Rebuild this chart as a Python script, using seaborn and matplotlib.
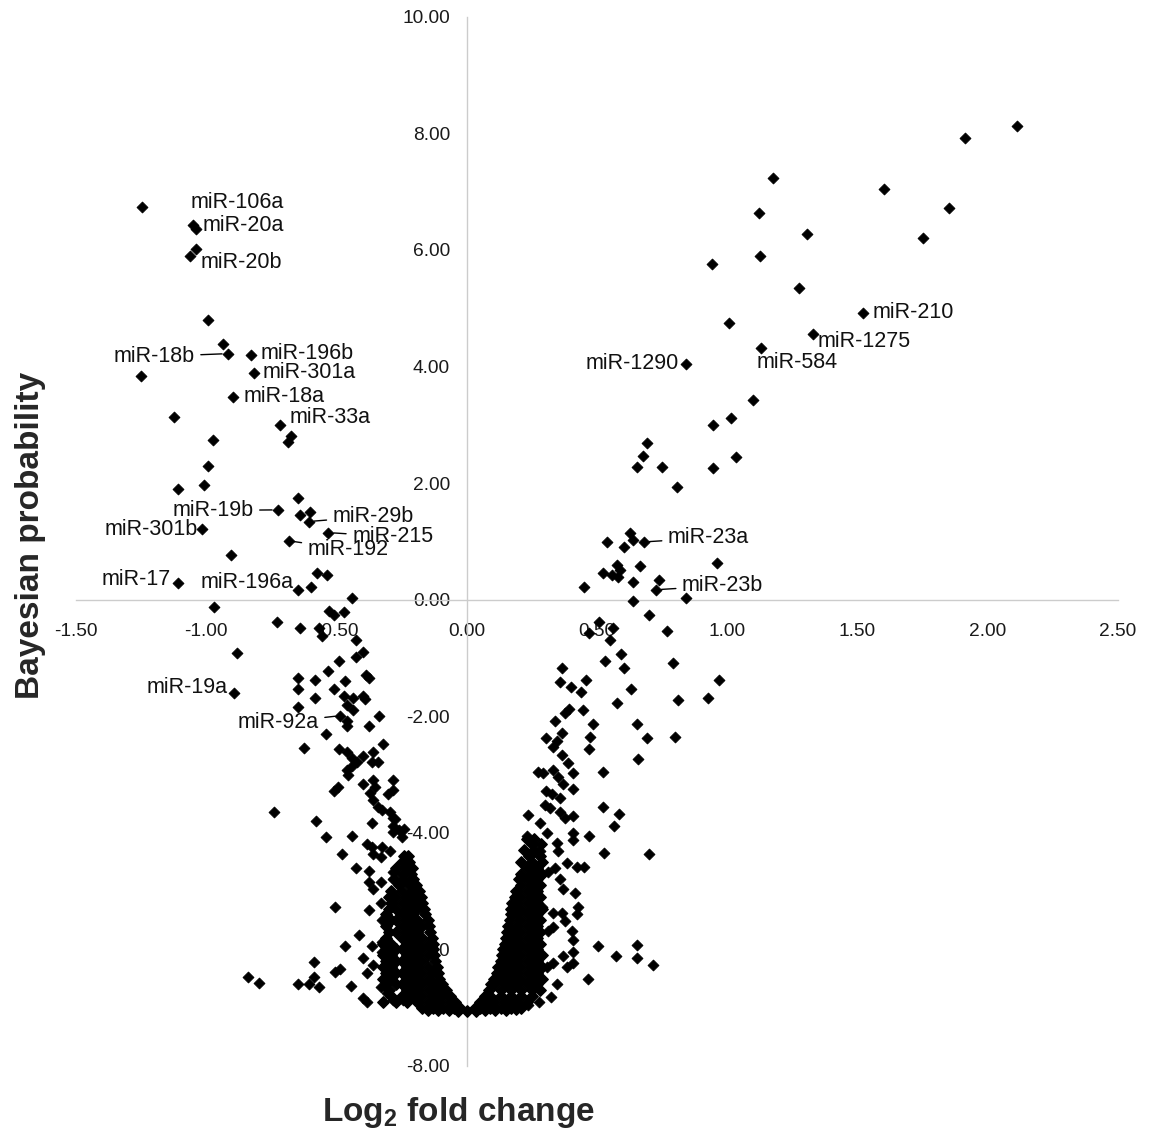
import numpy as np
import pandas as pd
import matplotlib
matplotlib.use("Agg")
import matplotlib.pyplot as plt
import seaborn as sns

# ---------------- data (log2 fold change, Bayesian probability) ----------------
label_names = ["miR-106a", "miR-20a", "miR-20b", "miR-18b", "miR-196b", "miR-301a",
               "miR-18a", "miR-33a", "miR-19b", "miR-29b", "miR-215", "miR-192",
               "miR-301b", "miR-17", "miR-196a", "miR-19a", "miR-92a",
               "miR-210", "miR-1275", "miR-584", "miR-1290", "miR-23a", "miR-23b"]
label_fc = [-1.052, -1.040, -1.063, -0.918, -0.830, -0.818, -0.898, -0.715, -0.726,
            -0.607, -0.531, -0.684, -1.017, -1.109, -0.649, -0.894, -0.485,
            1.523, 1.328, 1.130, 0.841, 0.680, 0.726]
label_p = [6.42, 6.35, 5.90, 4.22, 4.19, 3.89, 3.48, 3.00, 1.54, 1.34, 1.15, 1.01,
           1.22, 0.29, 0.17, -1.60, -1.99, 4.91, 4.56, 4.32, 4.05, 0.99, 0.17]

left_fc = [-1.247, -1.040, -0.994, -0.937, -1.251, -1.125, -0.676, -0.688, -0.975, -0.994,
           -1.109, -1.010, -0.649, -0.642, -0.600, -0.906, -0.573, -0.538, -0.596, -0.442,
           -0.971, -0.527, -0.511, -0.473, -0.730, -0.642, -0.569, -0.554, -0.427, -0.883,
           -0.397, -0.427, -0.492, -0.531, -0.385, -0.377, -0.649, -0.584, -0.466, -0.649,
           -0.511, -0.473, -0.435, -0.397, -0.389, -0.584, -0.458, -0.435, -0.649, -0.335,
           -0.458, -0.542, -0.458, -0.377, -0.626, -0.492, -0.458, -0.439, -0.420, -0.397,
           -0.358, -0.362, -0.339, -0.320, -0.458, -0.439, -0.454, -0.397, -0.358, -0.351,
           -0.370, -0.282, -0.285, -0.301, -0.511, -0.496, -0.358, -0.339, -0.324, -0.293,
           -0.285, -0.741, -0.580, -0.362, -0.285, -0.282, -0.259, -0.239, -0.247, -0.542,
           -0.439, -0.381, -0.362, -0.324, -0.358, -0.331, -0.293, -0.477, -0.427, -0.374,
           -0.377, -0.331, -0.358, -0.285, -0.282, -0.504, -0.377, -0.331, -0.305, -0.324,
           -0.412, -0.362, -0.324, -0.305, -0.469, -0.588, -0.504, -0.485, -0.397, -0.358,
           -0.381, -0.324, -0.305, -0.841, -0.799, -0.646, -0.607, -0.588, -0.569, -0.446,
           -0.400, -0.381, -0.331, -0.305, -0.282, -0.243, -0.274]
left_p = [6.74, 6.02, 4.80, 4.39, 3.83, 3.14, 2.80, 2.71, 2.74, 2.30,
          1.89, 1.96, 1.75, 1.46, 1.51, 0.77, 0.46, 0.43, 0.22, 0.03,
          -0.12, -0.19, -0.26, -0.22, -0.38, -0.48, -0.48, -0.63, -0.70, -0.91,
          -0.89, -0.98, -1.06, -1.23, -1.29, -1.34, -1.34, -1.37, -1.39, -1.54,
          -1.54, -1.65, -1.68, -1.66, -1.70, -1.68, -1.80, -1.89, -1.85, -1.99,
          -2.09, -2.30, -2.16, -2.16, -2.54, -2.56, -2.61, -2.71, -2.78, -2.69,
          -2.61, -2.78, -2.78, -2.47, -2.92, -2.86, -3.00, -3.17, -3.09, -3.21,
          -3.31, -3.09, -3.26, -3.34, -3.29, -3.21, -3.43, -3.55, -3.60, -3.65,
          -3.74, -3.65, -3.79, -3.83, -3.88, -3.98, -3.96, -3.93, -4.07, -4.07,
          -4.05, -4.19, -4.25, -4.24, -4.37, -4.41, -4.32, -4.36, -4.60, -4.65,
          -4.84, -4.84, -4.97, -4.68, -4.80, -5.27, -5.33, -5.20, -5.44, -5.49,
          -5.75, -5.95, -5.87, -6.00, -5.95, -6.21, -6.38, -6.33, -6.14, -6.26,
          -6.40, -6.05, -6.30, -6.47, -6.57, -6.60, -6.60, -6.47, -6.64, -6.62,
          -6.84, -6.90, -6.64, -6.74, -6.86, -6.86, -3.77]

right_fc = [2.113, 1.914, 1.174, 1.603, 1.121, 1.852, 1.305, 1.753, 0.941, 1.125,
            1.274, 1.006, 1.098, 0.944, 1.013, 0.944, 1.033, 0.692, 0.676, 0.653,
            0.749, 0.807, 0.538, 0.626, 0.638, 0.603, 0.960, 0.577, 0.523, 0.557,
            0.580, 0.588, 0.665, 0.638, 0.738, 0.450, 0.841, 0.638, 0.699, 0.508,
            0.561, 0.469, 0.768, 0.550, 0.592, 0.531, 0.791, 0.603, 0.366, 0.358,
            0.400, 0.458, 0.439, 0.967, 0.630, 0.810, 0.925, 0.577, 0.393, 0.377,
            0.446, 0.339, 0.485, 0.653, 0.366, 0.305, 0.347, 0.473, 0.469, 0.692,
            0.799, 0.331, 0.366, 0.389, 0.659, 0.274, 0.293, 0.331, 0.351, 0.408,
            0.523, 0.370, 0.408, 0.305, 0.328, 0.358, 0.301, 0.320, 0.236, 0.358,
            0.408, 0.377, 0.523, 0.584, 0.565, 0.282, 0.308, 0.232, 0.408, 0.408,
            0.469, 0.527, 0.699, 0.282, 0.347, 0.351, 0.385, 0.423, 0.450, 0.312,
            0.339, 0.358, 0.370, 0.416, 0.427, 0.423, 0.289, 0.331, 0.366, 0.404,
            0.408, 0.377, 0.331, 0.312, 0.504, 0.573, 0.653, 0.653, 0.715, 0.408,
            0.370, 0.385, 0.408, 0.466, 0.347, 0.324, 0.278, 0.236, 0.308, 0.331]
right_p = [8.13, 7.92, 7.24, 7.05, 6.64, 6.71, 6.28, 6.21, 5.76, 5.90,
           5.35, 4.75, 3.43, 3.00, 3.12, 2.26, 2.44, 2.68, 2.47, 2.28,
           2.28, 1.94, 0.99, 1.15, 1.03, 0.91, 0.63, 0.60, 0.46, 0.43,
           0.38, 0.51, 0.57, 0.31, 0.33, 0.22, 0.03, -0.02, -0.26, -0.38,
           -0.48, -0.57, -0.53, -0.70, -0.94, -1.06, -1.08, -1.18, -1.17, -1.41,
           -1.49, -1.37, -1.58, -1.37, -1.53, -1.72, -1.68, -1.78, -1.87, -1.94,
           -1.89, -2.09, -2.14, -2.13, -2.28, -2.37, -2.42, -2.35, -2.56, -2.38,
           -2.35, -2.52, -2.66, -2.80, -2.73, -2.95, -2.97, -2.92, -3.04, -2.97,
           -2.95, -3.17, -3.24, -3.29, -3.34, -3.40, -3.52, -3.57, -3.69, -3.65,
           -3.72, -3.74, -3.55, -3.67, -3.89, -3.83, -4.00, -4.05, -4.00, -4.12,
           -4.05, -4.34, -4.36, -4.31, -4.17, -4.32, -4.51, -4.58, -4.58, -4.68,
           -4.61, -4.80, -4.97, -5.03, -5.28, -5.40, -5.28, -5.37, -5.37, -5.69,
           -5.83, -5.52, -5.61, -5.69, -5.95, -6.11, -5.93, -6.14, -6.26, -6.04,
           -6.11, -6.30, -6.24, -6.50, -6.60, -6.81, -6.91, -6.95, -6.30, -6.23]

# dense cores, read row by row: probability level -> fold changes
core_left_rows = {
    -4.4: [-0.24, -0.225],
    -4.5: [-0.25, -0.22],
    -4.6: [-0.27, -0.235, -0.21],
    -4.7: [-0.25, -0.215],
    -4.8: [-0.28, -0.24, -0.205],
    -4.9: [-0.26, -0.22, -0.195],
    -5.0: [-0.29, -0.25, -0.21, -0.185],
    -5.1: [-0.30, -0.27, -0.23, -0.19, -0.175],
    -5.2: [-0.29, -0.25, -0.21, -0.17],
    -5.3: [-0.30, -0.27, -0.23, -0.19, -0.165],
    -5.4: [-0.31, -0.25, -0.21, -0.16],
    -5.5: [-0.29, -0.27, -0.23, -0.19, -0.15],
    -5.6: [-0.31, -0.25, -0.21, -0.17, -0.145],
    -5.7: [-0.30, -0.27, -0.23, -0.19, -0.14],
    -5.8: [-0.31, -0.25, -0.21, -0.17, -0.135],
    -5.9: [-0.32, -0.29, -0.23, -0.19, -0.15, -0.13],
    -6.0: [-0.31, -0.27, -0.25, -0.21, -0.17, -0.13],
    -6.1: [-0.32, -0.29, -0.23, -0.19, -0.15, -0.125],
    -6.2: [-0.31, -0.27, -0.25, -0.21, -0.17, -0.12],
    -6.3: [-0.32, -0.29, -0.23, -0.19, -0.15, -0.115],
    -6.4: [-0.31, -0.27, -0.25, -0.21, -0.17, -0.13, -0.11],
    -6.5: [-0.32, -0.29, -0.23, -0.19, -0.15, -0.105],
    -6.6: [-0.31, -0.27, -0.25, -0.21, -0.17, -0.13, -0.095],
    -6.7: [-0.30, -0.23, -0.19, -0.15, -0.11, -0.08],
    -6.8: [-0.29, -0.25, -0.21, -0.17, -0.13, -0.09, -0.065],
    -6.9: [-0.32, -0.27, -0.23, -0.19, -0.15, -0.11, -0.07, -0.045],
    -7.0: [-0.17, -0.13, -0.09, -0.05, -0.025],
}
core_right_rows = {
    -4.1: [0.23, 0.26],
    -4.2: [0.25, 0.285],
    -4.3: [0.22, 0.26],
    -4.4: [0.24, 0.28],
    -4.5: [0.21, 0.25, 0.29],
    -4.6: [0.23, 0.27],
    -4.7: [0.21, 0.25, 0.29],
    -4.8: [0.20, 0.23, 0.27],
    -4.9: [0.21, 0.25, 0.28],
    -5.0: [0.19, 0.23, 0.27],
    -5.1: [0.185, 0.21, 0.25, 0.28],
    -5.2: [0.175, 0.19, 0.23, 0.27],
    -5.3: [0.17, 0.21, 0.25, 0.29],
    -5.4: [0.17, 0.19, 0.23, 0.27],
    -5.5: [0.165, 0.21, 0.25, 0.28],
    -5.6: [0.16, 0.19, 0.23, 0.27],
    -5.7: [0.155, 0.17, 0.21, 0.25, 0.28],
    -5.8: [0.15, 0.19, 0.23, 0.27],
    -5.9: [0.145, 0.17, 0.21, 0.25, 0.28],
    -6.0: [0.14, 0.15, 0.19, 0.23, 0.27],
    -6.1: [0.135, 0.17, 0.21, 0.25, 0.29],
    -6.2: [0.13, 0.15, 0.19, 0.23, 0.27],
    -6.3: [0.12, 0.13, 0.17, 0.21, 0.25, 0.29],
    -6.4: [0.115, 0.15, 0.19, 0.23, 0.27],
    -6.5: [0.105, 0.13, 0.17, 0.21, 0.25, 0.29],
    -6.6: [0.095, 0.11, 0.15, 0.19, 0.23, 0.27],
    -6.7: [0.085, 0.13, 0.17, 0.21, 0.25, 0.28],
    -6.8: [0.07, 0.09, 0.13, 0.17, 0.21, 0.25],
    -6.9: [0.05, 0.07, 0.11, 0.15, 0.19, 0.23],
    -7.0: [0.03, 0.05, 0.09, 0.13, 0.17, 0.21],
}
bottom_fc = [-0.15, -0.11, -0.07, -0.035, 0.0, 0.035, 0.07, 0.11, 0.15, 0.19]
bottom_p = [-7.04, -7.04, -7.04, -7.05, -7.05, -7.05, -7.04, -7.04, -7.04, -7.02]

x_ticks = [-1.5, -1.0, -0.5, 0.0, 0.5, 1.0, 1.5, 2.0, 2.5]
y_ticks = [-8, -6, -4, -2, 0, 2, 4, 6, 8, 10]

# ---------------- build tables ----------------
core_fc, core_p = [], []
for rows in (core_left_rows, core_right_rows):
    for p, xs in rows.items():
        core_fc.extend(xs)
        core_p.extend([p] * len(xs))

df_core = pd.DataFrame({"fc": core_fc + bottom_fc, "p": core_p + bottom_p})
df_pts = pd.DataFrame({
    "fc": list(left_fc) + list(right_fc) + list(label_fc),
    "p": list(left_p) + list(right_p) + list(label_p),
})

# ---------------- style ----------------
sns.set_style("white")
plt.rcParams["font.family"] = ["Liberation Sans", "DejaVu Sans"]
plt.rcParams["axes.unicode_minus"] = False
plt.rcParams["mathtext.fontset"] = "custom"
plt.rcParams["mathtext.rm"] = "Liberation Sans"
plt.rcParams["mathtext.bf"] = "Liberation Sans:bold"

W, H = 1153, 1137
fig = plt.figure(figsize=(W / 100, H / 100), dpi=100)
ax = fig.add_axes([76 / W, 1 - 1066 / H, (1118 - 76) / W, (1066 - 16.7) / H])

sns.scatterplot(data=df_core, x="fc", y="p", marker="D", s=34, color="black",
                edgecolor="black", linewidth=1.0, ax=ax, zorder=3, legend=False)
sns.scatterplot(data=df_pts, x="fc", y="p", marker="D", s=31, color="black",
                edgecolor="black", linewidth=0.6, ax=ax, zorder=3, legend=False)

ax.set_xlim(-1.5, 2.5)
ax.set_ylim(-8, 10)
ax.set_axisbelow(True)
axis_gray = "#cccccc"
for side in ("top", "right"):
    ax.spines[side].set_visible(False)
ax.spines["left"].set_position(("data", 0))
ax.spines["bottom"].set_position(("data", 0))
for side in ("left", "bottom"):
    ax.spines[side].set_color(axis_gray)
    ax.spines[side].set_linewidth(1.0)
    ax.spines[side].set_zorder(0.6)

ax.set_xticks(x_ticks)
ax.set_yticks(y_ticks)
ax.xaxis.set_major_formatter(matplotlib.ticker.FormatStrFormatter("%.2f"))
ax.yaxis.set_major_formatter(matplotlib.ticker.FormatStrFormatter("%.2f"))
ax.tick_params(axis="both", direction="out", length=5, width=1, color=axis_gray,
               labelsize=13.8, labelcolor="#1a1a1a")
ax.tick_params(axis="x", pad=12)
ax.tick_params(axis="y", pad=7)
ax.set_xlabel("")
ax.set_ylabel("")
ax.grid(False)

# ---------------- labels ----------------
text_pos = {
    "miR-106a": (-1.059, 6.81, "left", False),
    "miR-20a": (-1.015, 6.42, "left", False),
    "miR-20b": (-1.021, 5.78, "left", False),
    "miR-18b": (-1.044, 4.17, "right", True),
    "miR-196b": (-0.791, 4.23, "left", False),
    "miR-301a": (-0.784, 3.89, "left", False),
    "miR-18a": (-0.856, 3.48, "left", False),
    "miR-33a": (-0.680, 3.12, "left", False),
    "miR-19b": (-0.818, 1.53, "right", True),
    "miR-29b": (-0.515, 1.43, "left", True),
    "miR-215": (-0.440, 1.08, "left", True),
    "miR-192": (-0.611, 0.86, "left", True),
    "miR-301b": (-1.033, 1.20, "right", False),
    "miR-17": (-1.136, 0.34, "right", False),
    "miR-196a": (-0.665, 0.29, "right", False),
    "miR-19a": (-0.918, -1.51, "right", False),
    "miR-92a": (-0.568, -2.11, "right", True),
    "miR-210": (1.557, 4.92, "left", False),
    "miR-1275": (1.347, 4.43, "left", False),
    "miR-584": (1.113, 4.07, "left", False),
    "miR-1290": (0.814, 4.05, "right", False),
    "miR-23a": (0.772, 1.06, "left", True),
    "miR-23b": (0.826, 0.24, "left", True),
}
for name, fx, py in zip(label_names, label_fc, label_p):
    tx, ty, ha, leader = text_pos[name]
    props = None
    if leader:
        props = dict(arrowstyle="-", color="black", lw=1.0, shrinkA=2, shrinkB=4)
    ax.annotate(name, xy=(fx, py), xytext=(tx, ty), ha=ha, va="center",
                fontsize=15.5, color="#111111", arrowprops=props, zorder=4)

fig.text(458 / W, 1 - 1113 / H, r"Log$_{\mathbf{2}}$ fold change", ha="center",
         va="center", fontsize=24, fontweight="bold")
fig.text(31 / W, 1 - 535 / H, "Bayesian probability", ha="center", va="center",
         rotation=90, fontsize=24, fontweight="bold")

fig.savefig("out.png", dpi=100, facecolor="white")
